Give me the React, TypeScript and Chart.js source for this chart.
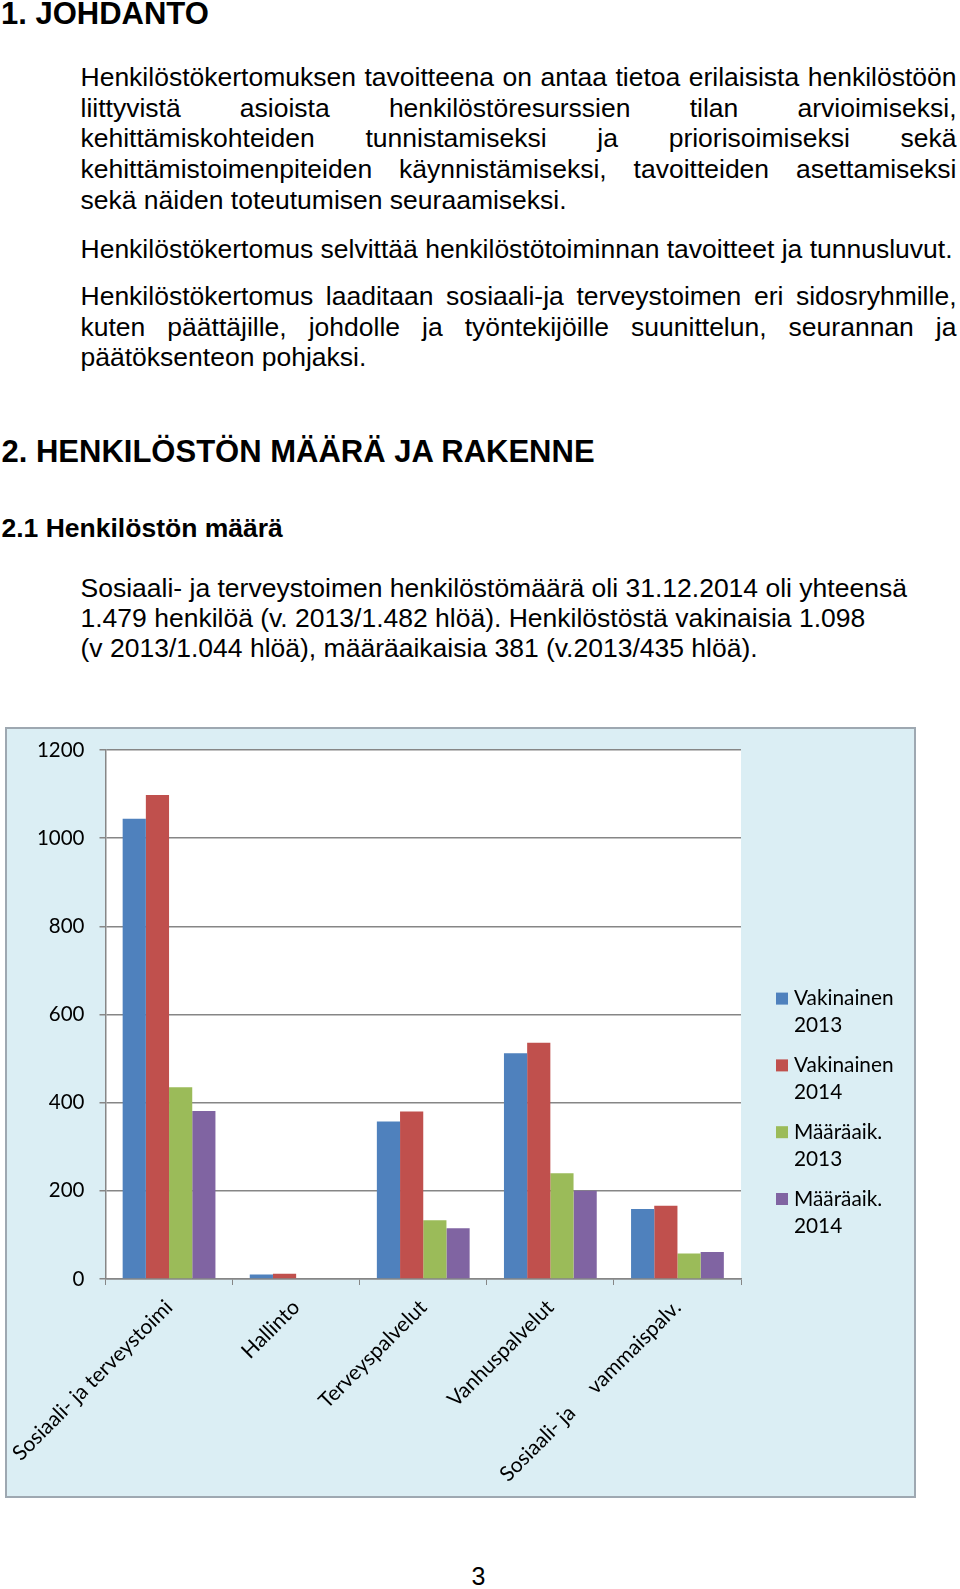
import React, { useEffect, useRef } from "react";
import { Chart, registerables } from "chart.js";

Chart.register(...registerables);

// ---- data ----
const categories = [
  "Sosiaali- ja terveystoimi",
  "Hallinto",
  "Terveyspalvelut",
  "Vanhuspalvelut",
  "Sosiaali- ja     vammaispalv.",
];
const vakinainen2013 = [1044, 10, 357, 512, 159];
const vakinainen2014 = [1098, 12, 380, 536, 166];
const maaraaik2013 = [435, 0, 133, 240, 58];
const maaraaik2014 = [381, 0, 115, 200, 61];
const seriesLabels = [
  ["Vakinainen", "2013"],
  ["Vakinainen", "2014"],
  ["Määräaik.", "2013"],
  ["Määräaik.", "2014"],
];
const seriesColors = ["#4f81bd", "#c0504d", "#9bbb59", "#8064a2"];
const yMin = 0;
const yMax = 1200;
const yStep = 200;

const FONT = "Lato, 'Open Sans', sans-serif";

const plotBg = {
  id: "plotBg",
  beforeDraw(chart: any) {
    const { ctx, chartArea } = chart;
    ctx.save();
    ctx.fillStyle = "#ffffff";
    ctx.fillRect(chartArea.left, chartArea.top, chartArea.right - chartArea.left, chartArea.bottom - chartArea.top);
    ctx.restore();
  },
};

const sideLegend = {
  id: "sideLegend",
  afterDraw(chart: any) {
    const { ctx, chartArea } = chart;
    ctx.save();
    ctx.font = `20.8px ${FONT}`;
    ctx.textBaseline = "middle";
    ctx.textAlign = "left";
    chart.data.datasets.forEach((ds: any, i: number) => {
      const y = 269.6 + i * 66.8;
      const x = chartArea.right + 35;
      ctx.fillStyle = ds.backgroundColor;
      ctx.fillRect(x, y - 6, 12, 12);
      ctx.fillStyle = "#000000";
      const lines: string[] = ds.legendLines;
      lines.forEach((t, j) => ctx.fillText(t, x + 18, y + j * 27));
    });
    ctx.restore();
  },
};

function BarChart() {
  const ref = useRef<HTMLCanvasElement | null>(null);
  useEffect(() => {
    if (!ref.current) return;
    const values = [vakinainen2013, vakinainen2014, maaraaik2013, maaraaik2014];
    const chart = new Chart(ref.current, {
      type: "bar",
      data: {
        labels: categories,
        datasets: values.map((v, i) => ({
          label: seriesLabels[i].join(" "),
          legendLines: seriesLabels[i],
          data: v,
          backgroundColor: seriesColors[i],
          borderWidth: 0,
          categoryPercentage: 0.73,
          barPercentage: 1,
        })) as any,
      },
      options: {
        animation: false,
        responsive: false,
        maintainAspectRatio: false,
        devicePixelRatio: 1,
        layout: { padding: { left: 0, top: 21, right: 173, bottom: 0 } },
        plugins: {
          legend: { display: false },
          tooltip: { enabled: false },
          title: { display: false },
        },
        scales: {
          x: {
            grid: {
              display: true,
              drawOnChartArea: false,
              drawTicks: true,
              tickLength: 6,
              offset: true,
              color: "#868686",
              lineWidth: 1,
            },
            border: { display: true, color: "#868686", width: 1.5 },
            ticks: {
              autoSkip: false,
              minRotation: 45,
              maxRotation: 45,
              padding: 10,
              color: "#000000",
              font: { family: FONT, size: 21 },
            },
            afterFit: (scale: any) => {
              scale.height = 217;
              scale.paddingLeft = 0;
              scale.paddingRight = 0;
            },
          },
          y: {
            min: yMin,
            max: yMax,
            ticks: {
              stepSize: yStep,
              padding: 15,
              color: "#000000",
              font: { family: FONT, size: 20.5 },
              callback: (v: any) => String(v),
            },
            grid: {
              color: "#868686",
              lineWidth: 1.5,
              drawTicks: true,
              tickLength: 6,
            },
            border: { display: true, color: "#868686", width: 1.5 },
            afterFit: (scale: any) => {
              scale.width = 98.5;
              scale.paddingTop = 0;
              scale.paddingBottom = 0;
            },
          },
        },
      },
      plugins: [plotBg, sideLegend],
    });
    return () => chart.destroy();
  }, []);
  return <canvas ref={ref} width={907} height={767} style={{ display: "block", width: 907, height: 767 }} />;
}

const BODY = 26.5;
const ASC = 0.8465;

function Line(props: { text: string; baseline: number; left?: number; size?: number; bold?: boolean; justify?: boolean; width?: number }) {
  const size = props.size ?? BODY;
  const style: React.CSSProperties = {
    position: "absolute",
    left: props.left ?? 80.5,
    top: props.baseline - ASC * size,
    fontFamily: "'Liberation Sans', Arial, sans-serif",
    fontSize: size,
    lineHeight: `${size}px`,
    fontWeight: props.bold ? 700 : 400,
    color: "#000",
    whiteSpace: props.justify ? "normal" : "nowrap",
  };
  if (props.justify) {
    style.width = props.width ?? 876;
    style.textAlign = "justify";
    (style as any).textAlignLast = "justify";
  }
  return <div style={style}>{props.text}</div>;
}

export default function App() {
  const p1 = 86.7;
  const s1 = 30.6;
  return (
    <div style={{ position: "relative", width: 960, height: 1589, background: "#fff", overflow: "hidden" }}>
      <style>{"body{margin:0;}"}</style>
      <Line text="1. JOHDANTO" baseline={24} left={1} size={31} bold />

      <Line text="Henkilöstökertomuksen tavoitteena on antaa tietoa erilaisista henkilöstöön" baseline={p1} justify />
      <Line text="liittyvistä asioista henkilöstöresurssien tilan arvioimiseksi," baseline={p1 + s1} justify />
      <Line text="kehittämiskohteiden tunnistamiseksi ja priorisoimiseksi sekä" baseline={p1 + 2 * s1} justify />
      <Line text="kehittämistoimenpiteiden käynnistämiseksi, tavoitteiden asettamiseksi" baseline={p1 + 3 * s1} justify />
      <Line text="sekä näiden toteutumisen seuraamiseksi." baseline={p1 + 4 * s1} />

      <Line text="Henkilöstökertomus selvittää henkilöstötoiminnan tavoitteet ja tunnusluvut." baseline={258.5} />

      <Line text="Henkilöstökertomus laaditaan sosiaali-ja terveystoimen eri sidosryhmille," baseline={305.5} justify />
      <Line text="kuten päättäjille, johdolle ja työntekijöille suunittelun, seurannan ja" baseline={336} justify />
      <Line text="päätöksenteon pohjaksi." baseline={366.5} />

      <Line text="2. HENKILÖSTÖN MÄÄRÄ JA RAKENNE" baseline={462.3} left={1.5} size={31} bold />
      <Line text="2.1 Henkilöstön määrä" baseline={537.7} left={1.5} size={26.5} bold />

      <Line text="Sosiaali- ja terveystoimen henkilöstömäärä oli 31.12.2014 oli yhteensä" baseline={597.3} />
      <Line text="1.479 henkilöä (v. 2013/1.482 hlöä). Henkilöstöstä vakinaisia 1.098" baseline={627.6} />
      <Line text="(v 2013/1.044 hlöä), määräaikaisia 381 (v.2013/435 hlöä)." baseline={657.9} />

      <div
        style={{
          position: "absolute",
          left: 5,
          top: 727,
          width: 911,
          height: 771,
          boxSizing: "border-box",
          border: "2px solid #9ea8b1",
          background: "#dbeef4",
        }}
      >
        <BarChart />
      </div>

      <Line text="3" baseline={1585} left={471.5} size={25} />
    </div>
  );
}
